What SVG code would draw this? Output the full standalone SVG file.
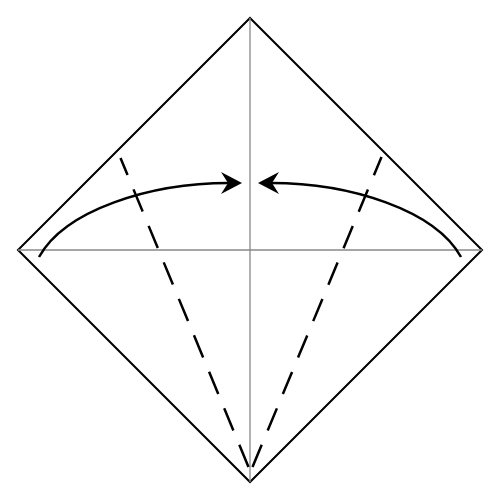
<svg xmlns="http://www.w3.org/2000/svg" width="500" height="500" viewBox="0 0 500 500">
  <defs>
    <style>
      .paper { fill: #ffffff; stroke: #000000; stroke-width: 2; stroke-linejoin: miter; }
      .crease { stroke: #888888; stroke-width: 1.3; fill: none; }
      .valley { stroke: #000000; stroke-width: 2.5; fill: none; stroke-dasharray: 24 15.5; }
      .arc { stroke: #000000; stroke-width: 2.5; fill: none; }
      .head { fill: #000000; stroke: none; }
    </style>
  </defs>
  <rect width="500" height="500" fill="#ffffff"/>
  <g id="paper">
    <polygon class="paper" points="250,18 482,250 250,482 18,250"/>
  </g>
  <g id="creases">
    <line class="crease" x1="250" y1="18" x2="250" y2="482"/>
    <line class="crease" x1="18" y1="250" x2="482" y2="250"/>
  </g>
  <g id="valley-folds">
    <line class="valley" x1="248.5" y1="467" x2="120.5" y2="158"/>
    <line class="valley" x1="252.5" y1="467" x2="381.5" y2="157"/>
  </g>
  <g id="connectors">
    <path class="arc" d="M39,257 C65,210 150,183 229,183"/>
    <path class="head" d="M242,183 L221,172 L228,183 L221,194 Z"/>
    <path class="arc" d="M461,257 C435,210 350,183 271,183"/>
    <path class="head" d="M258,183 L279,172 L272,183 L279,194 Z"/>
  </g>
</svg>
